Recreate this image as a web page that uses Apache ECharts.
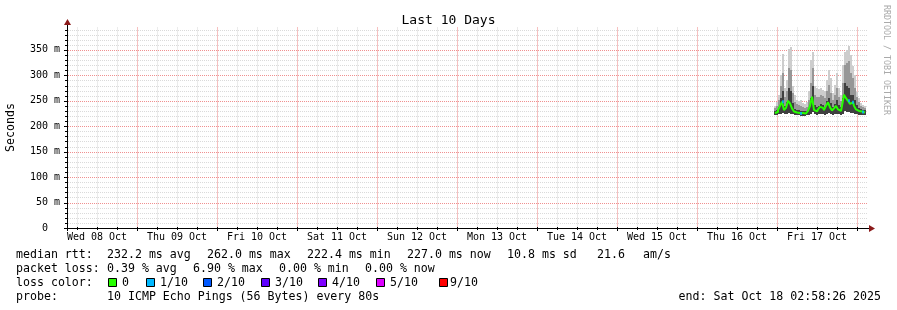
<!DOCTYPE html>
<html><head><meta charset="utf-8">
<script src="https://cdn.jsdelivr.net/npm/echarts@6/dist/echarts.min.js"></script>
<style>html,body{margin:0;padding:0;background:#fff}#c{width:897px;height:310px}</style>
</head><body><div id="c"></div>
<script>
// ---- axis ticks / labels ----
const dayLabels = ['Wed 08 Oct','Thu 09 Oct','Fri 10 Oct','Sat 11 Oct','Sun 12 Oct','Mon 13 Oct','Tue 14 Oct','Wed 15 Oct','Thu 16 Oct','Fri 17 Oct'];
const dayLabelHours = [12,36,60,84,108,132,156,180,204,228]; // hours since Wed 08 Oct 00:00 (noon of each day)
const xStartHour = 3.0;    // ~Wed 08 Oct 02:58
const xEndHour = 243.0;    // ~Sat 18 Oct 02:58
const yTickValues = [0,50,100,150,200,250,300,350];
const yTickLabels = ['0  ','50 m','100 m','150 m','200 m','250 m','300 m','350 m'];
const yMax = 395;

// ---- data (ms), sampled every 0.6 h ----
const timeHours = [215.4,216.0,216.6,217.2,217.8,218.4,219.0,219.6,220.2,220.8,221.4,222.0,222.6,223.2,223.8,224.4,225.0,225.6,226.2,226.8,227.4,228.0,228.6,229.2,229.8,230.4,231.0,231.6,232.2,232.8,233.4,234.0,234.6,235.2,235.8,236.4,237.0,237.6,238.2,238.8,239.4,240.0,240.6,241.2,241.8,242.4];
const medianMs  = [226,228,232,240,248,232,236,250,245,235,229,227,226,225,226,225,226,230,240,258,232,229,233,238,236,232,240,247,237,231,235,240,233,230,240,262,255,250,244,247,240,233,230,229,228,227];
const lossTenths= [0,0,0,0,1,0,0,0,0,0,0,0,0,1,0,0,0,0,0,0,0,0,0,0,0,0,0,0,0,0,0,0,0,0,0,0,0,1,0,1,0,0,0,0,1,0];
const minMs     = [222,222,224,224,226,224,224,226,225,224,223,222,222,221,221,221,222,223,224,228,224,223,224,225,224,223,225,226,224,223,224,225,224,223,225,230,228,227,226,226,225,224,223,223,222,222];
const darkTopMs = [230,232,238,255,270,240,248,275,270,245,234,232,231,230,230,229,230,236,255,280,242,238,240,244,242,238,250,256,246,238,244,252,242,238,255,285,280,275,262,262,252,242,236,234,232,231];
const midTopMs  = [235,240,252,280,305,258,270,315,310,265,248,243,241,240,238,236,238,252,285,315,262,258,258,262,260,255,270,282,266,252,262,276,258,250,285,320,325,328,305,295,275,258,248,240,237,235];
const maxMs     = [240,248,262,300,342,275,290,352,356,280,262,252,250,252,246,244,248,270,330,346,280,276,274,276,272,270,290,310,295,265,282,305,275,262,320,345,350,357,340,318,300,268,256,246,242,240];

// ---- legend / summary ----
const lossLevels = ['0','1/10','2/10','3/10','4/10','5/10','9/10'];
const lossColors = ['#26ff00','#00b8ff','#0059ff','#5e00ff','#7e00ff','#dd00ff','#ff0000'];
const rttStats = ['232.2 ms avg','262.0 ms max','222.4 ms min','227.0 ms now','10.8 ms sd','21.6','am/s'];
const lossStats = ['0.39 % avg','6.90 % max','0.00 % min','0.00 % now'];
const probeText = '10 ICMP Echo Pings (56 Bytes) every 80s';
const endText = 'end: Sat Oct 18 02:58:26 2025';

const MONO = '"DejaVu Sans Mono", monospace';
const chart = echarts.init(document.getElementById('c'), null, {renderer:'canvas'});

const smokeColors = ['#404040','#979797','#cdcdcd'];
const halfStep = 0.3;
const GRID_MINOR = '#dadada', GRID_MAJOR = '#f09090';
const VGRID_MINOR = '#ebebeb', VGRID_MAJOR = '#f6c0c0';

// grid line values (hours / ms)
const vGrid = []; for (let h = 6; h <= 240; h += 6) vGrid.push(h);
const hGrid = []; for (let v = 10; v < yMax; v += 10) hGrid.push(v);

const option = {
  animation:false,
  backgroundColor:'#ffffff',
  title:{text:'Last 10 Days', left:'center', top:9, textStyle:{fontFamily:MONO, fontSize:13, fontWeight:'normal', color:'#000'}},
  grid:{left:67, right:30, top:27, bottom:82, containLabel:false, outerBoundsMode:'none', show:false},
  xAxis:{type:'value', min:xStartHour, max:xEndHour,
    axisLine:{show:false},
    axisTick:{show:false},
    axisLabel:{customValues:dayLabelHours, formatter:v=>dayLabels[dayLabelHours.indexOf(v)], fontFamily:MONO, fontSize:10, color:'#000', margin:4},
    splitLine:{show:false}, minorSplitLine:{show:false}, minorTick:{show:false}},
  yAxis:{type:'value', min:0, max:yMax,
    name:'Seconds', nameLocation:'middle', nameGap:50, nameRotate:90,
    nameTextStyle:{fontFamily:MONO, fontSize:11.6, color:'#000'},
    axisLine:{show:false},
    axisTick:{show:false},
    axisLabel:{customValues:yTickValues, formatter:v=>yTickLabels[yTickValues.indexOf(v)], fontFamily:MONO, fontSize:10, color:'#000', margin:7},
    splitLine:{show:false}, minorSplitLine:{show:false}, minorTick:{show:false}},
  series:[
    {type:'custom', name:'smoke', silent:true, z:3,
      data: timeHours.map((t,i)=>[t, minMs[i], darkTopMs[i], midTopMs[i], maxMs[i]]),
      renderItem:(params, api)=>{
        const t = api.value(0);
        const x0 = Math.round(api.coord([t-halfStep, 0])[0]);
        const x1 = Math.round(api.coord([t+halfStep, 0])[0]);
        const lv = [api.value(1), api.value(2), api.value(3), api.value(4)].map(v=>Math.round(api.coord([t, v])[1]));
        const children = [];
        for (let k = 0; k < 3; k++) {
          children.push({type:'rect', shape:{x:x0, y:lv[k+1], width:x1-x0, height:lv[k]-lv[k+1]}, style:{fill:smokeColors[k], stroke:null}});
        }
        return {type:'group', children};
      }},
    {type:'line', name:'median', data:timeHours.map((t,i)=>[t, medianMs[i]]), step:'middle', symbol:'none', silent:true, z:5,
      lineStyle:{color:lossColors[0], width:2}},
    {type:'scatter', name:'loss', data:medianMs.map((v,i)=>lossTenths[i]>0?[timeHours[i],v]:null).filter(Boolean),
      symbol:'rect', symbolSize:[2,3], silent:true, z:6,
      itemStyle:{color:lossColors[1]}}
  ]
};
chart.setOption(option);

// horizontal dotted-line pattern (1 px on, 1 px off)
function dotPattern(color) {
  const c = document.createElement('canvas');
  c.width = 2; c.height = 1;
  const ctx = c.getContext('2d'); ctx.fillStyle = color; ctx.fillRect(0, 0, 1, 1);
  return {image:c, repeat:'repeat'};
}
const pat = {minor:dotPattern(GRID_MINOR), major:dotPattern(GRID_MAJOR)};

// grid, axis lines, ticks, arrows, summary text, watermark
const px = (x,y) => chart.convertToPixel({gridIndex:0}, [x, y]);
const o = px(xStartHour, 0);
const e = px(xEndHour, yMax);
const X0 = Math.round(o[0]), Y0 = Math.round(o[1]), X1 = Math.round(e[0]), Y1 = Math.round(e[1]);
const g = [];
const R = (x,y,w,h,fill,z) => ({type:'rect', silent:true, z:z||0, shape:{x,y,width:w,height:h}, style:{fill}});
hGrid.forEach(v=>{
  const y = Math.round(px(xStartHour,v)[1]);
  g.push(R(X0, y, X1-X0+1, 1, v%50===0?pat.major:pat.minor, -11));
  g.push(R(X0-(v%50===0?3:2), y, v%50===0?4:3, 1, '#000', 5));
});
vGrid.forEach(h=>{
  const x = Math.round(px(h,0)[0]);
  g.push(R(x, Y1, 1, Y0-Y1, h%24===0 ? VGRID_MAJOR : VGRID_MINOR, -10));
  g.push(R(x, Y0-1, 1, h%24===0?4:3, '#000', 5));
});
g.push(R(X0-3, Y0, X1-X0+7, 1, '#000', 5));
g.push(R(X0, Y1-3, 1, Y0-Y1+6, '#000', 5));
g.push({type:'polygon', z:10, shape:{points:[[X1+2,Y0-3],[X1+8,Y0+0.5],[X1+2,Y0+4]]}, style:{fill:'#8b1a1a'}});
g.push({type:'polygon', z:10, shape:{points:[[X0-3,Y1-2],[X0+0.5,Y1-8],[X0+4,Y1-2]]}, style:{fill:'#8b1a1a'}});
const T = (x,y,text,extra) => Object.assign({type:'text', x:x, y:y, style:{text:text, font:'11.6px '+MONO, fill:'#000', verticalAlign:'middle', align:'left'}}, extra||{});
g.push(T(16,254.5,'median rtt:'));
const rttX = [107,207,307,407,507,597,643];
rttStats.forEach((s,i)=>g.push(T(rttX[i],254.5,s)));
g.push(T(16,268.5,'packet loss:'));
const lossX = [107,193,279,365];
lossStats.forEach((s,i)=>g.push(T(lossX[i],268.5,s)));
g.push(T(16,282.5,'loss color:'));
const boxX = [108,146,203,261,318,376,439];
const boxTextX = [122,160,217,275,332,390,450];
lossLevels.forEach((s,i)=>{
  g.push({type:'rect', shape:{x:boxX[i]+0.5, y:278.5, width:8, height:8}, style:{fill:lossColors[i], stroke:'#000', lineWidth:1}});
  g.push(T(boxTextX[i],282.5,s));
});
g.push(T(16,296.5,'probe:'));
g.push(T(107,296.5,probeText));
g.push({type:'text', x:881, y:296.5, style:{text:endText, font:'11.6px '+MONO, fill:'#000', verticalAlign:'middle', align:'right'}});
g.push({type:'text', x:886, y:5, rotation:-Math.PI/2, style:{text:'RRDTOOL / TOBI OETIKER', font:'8.3px '+MONO, fill:'#aaaaaa', verticalAlign:'middle', align:'left'}});
chart.setOption({graphic:g});
</script>
</body></html>
